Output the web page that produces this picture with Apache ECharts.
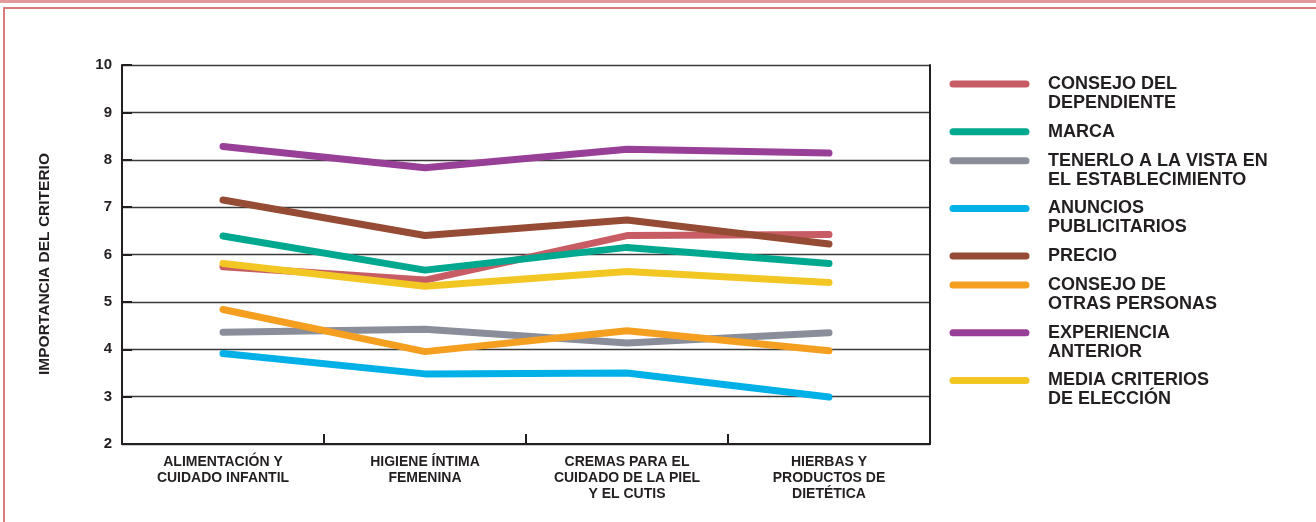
<!DOCTYPE html>
<html>
<head>
<meta charset="utf-8">
<script src="https://cdn.jsdelivr.net/npm/echarts@6/dist/echarts.min.js"></script>
<style>
html,body{margin:0;padding:0;background:#fff;}
#wrap{position:relative;width:1316px;height:522px;overflow:hidden;}
#chart{position:absolute;left:0;top:0;width:1316px;height:522px;}
.f{position:absolute;pointer-events:none;}
</style>
</head>
<body>
<div id="wrap">
<div id="chart"></div>
<div class="f" style="left:0;top:0;width:1316px;height:3px;background:#e39a9c;"></div>
<div class="f" style="left:3px;top:7px;width:1313px;height:2px;background:#d97a7d;"></div>
<div class="f" style="left:3px;top:7px;width:2px;height:515px;background:#d97a7d;"></div>
</div>
<script>
const categories = ['ALIMENTACIÓN Y\nCUIDADO INFANTIL', 'HIGIENE ÍNTIMA\nFEMENINA', 'CREMAS PARA EL\nCUIDADO DE LA PIEL\nY EL CUTIS', 'HIERBAS Y\nPRODUCTOS DE\nDIETÉTICA'];
const seriesNames = ['CONSEJO DEL\nDEPENDIENTE', 'MARCA', 'TENERLO A LA VISTA EN\nEL ESTABLECIMIENTO', 'ANUNCIOS\nPUBLICITARIOS', 'PRECIO', 'CONSEJO DE\nOTRAS PERSONAS', 'EXPERIENCIA\nANTERIOR', 'MEDIA CRITERIOS\nDE ELECCIÓN'];
const seriesColors = ['#c85c65', '#00a88f', '#8a8e9b', '#00b0e6', '#964b35', '#f59f20', '#983f98', '#f2c623'];
const consejoDependiente = [5.74, 5.46, 6.40, 6.42];
const marca = [6.39, 5.67, 6.15, 5.81];
const tenerloVista = [4.36, 4.42, 4.13, 4.35];
const anuncios = [3.91, 3.48, 3.50, 2.99];
const precio = [7.15, 6.40, 6.73, 6.22];
const consejoOtras = [4.84, 3.95, 4.39, 3.97];
const experiencia = [8.28, 7.83, 8.22, 8.14];
const media = [5.81, 5.33, 5.64, 5.41];
const yTicks = [2, 3, 4, 5, 6, 7, 8, 9, 10];
const yAxisTitle = 'IMPORTANCIA DEL CRITERIO';

const seriesData = [consejoDependiente, marca, tenerloVista, anuncios, precio, consejoOtras, experiencia, media];
const FONT = 'Liberation Sans';
const TXT = '#231f20';

const chart = echarts.init(document.getElementById('chart'), null, {renderer: 'canvas'});

const series = seriesData.map((d, i) => ({
  name: seriesNames[i],
  type: 'line',
  data: d,
  symbol: 'none',
  silent: true,
  z: 3 + i,
  lineStyle: {width: 7, color: seriesColors[i], cap: 'round', join: 'round'},
  itemStyle: {color: seriesColors[i]}
}));

const legendGraphics = [];
let ly = 84;
seriesNames.forEach((n, i) => {
  const lines = n.split('\n').length;
  legendGraphics.push({
    type: 'line', silent: true,
    shape: {x1: 953, y1: ly, x2: 1026, y2: ly},
    style: {stroke: seriesColors[i], lineWidth: 7, lineCap: 'round'}
  });
  legendGraphics.push({
    type: 'text', silent: true,
    x: 1048, y: ly - 9.5,
    style: {text: n, fill: TXT, fontFamily: FONT, fontWeight: 'bold', fontSize: 18, lineHeight: 19, align: 'left', verticalAlign: 'top'}
  });
  ly += lines > 1 ? 47.7 : 29;
});
legendGraphics.push({
  type: 'text', silent: true,
  x: 45, y: 264, rotation: Math.PI / 2,
  style: {text: yAxisTitle, fill: TXT, fontFamily: FONT, fontWeight: 'bold', fontSize: 15.5, align: 'center', verticalAlign: 'middle'}
});

chart.setOption({
  animation: false,
  backgroundColor: '#fff',
  grid: {left: 122, right: 386, top: 65, bottom: 78, show: false},
  xAxis: {
    type: 'category',
    data: categories,
    boundaryGap: true,
    axisLine: {show: true, lineStyle: {color: TXT, width: 2}},
    axisTick: {show: true, inside: true, length: 10, lineStyle: {color: TXT, width: 2}},
    axisLabel: {color: TXT, fontFamily: FONT, fontWeight: 'bold', fontSize: 14, lineHeight: 16, margin: 10, interval: 0, align: 'center'},
    splitLine: {show: false}
  },
  yAxis: [{
    type: 'value',
    min: yTicks[0], max: yTicks[yTicks.length - 1], interval: 1,
    axisLine: {show: true, lineStyle: {color: TXT, width: 2}},
    axisTick: {show: true, inside: true, length: 10, lineStyle: {color: TXT, width: 2}},
    axisLabel: {color: TXT, fontFamily: FONT, fontWeight: 'bold', fontSize: 15, margin: 10, padding: [0, 0, 10, 0]},
    splitLine: {show: true, lineStyle: {color: '#3a3a3a', width: 1.3}}
  }, {
    type: 'value', position: 'right',
    min: yTicks[0], max: yTicks[yTicks.length - 1], interval: 1,
    axisLine: {show: true, lineStyle: {color: TXT, width: 2}},
    axisTick: {show: false}, axisLabel: {show: false}, splitLine: {show: false}
  }],
  graphic: legendGraphics,
  series: series
});
</script>
</body>
</html>
